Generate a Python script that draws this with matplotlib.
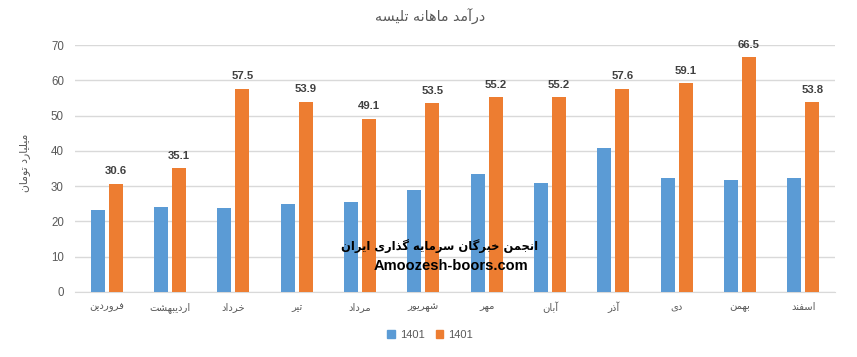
import matplotlib
matplotlib.use("Agg")
import matplotlib.pyplot as plt
from matplotlib.patches import Patch
import numpy as np

# ---------------- data ----------------
months = ["فروردین", "اردیبهشت", "خرداد", "تیر", "مرداد", "شهریور",
          "مهر", "آبان", "آذر", "دی", "بهمن", "اسفند"]
blue_values = [23.2, 24.1, 23.8, 24.9, 25.5, 28.9, 33.4, 30.9, 40.8, 32.3, 31.7, 32.3]
orange_values = [30.6, 35.1, 57.5, 53.9, 49.1, 53.5, 55.2, 55.2, 57.6, 59.1, 66.5, 53.8]
series_names = ["1401", "1401"]
title_text = "درآمد ماهانه تلیسه"
ylabel_text = "میلیارد تومان"
watermark_fa = "انجمن خبرگان سرمایه گذاری ایران"
watermark_en = "Amoozesh-boors.com"

# ---------------- minimal Arabic/Persian shaping ----------------
FORMS = {
    '\u0627': ('\uFE8D', '\uFE8E', None, None),
    '\u0622': ('\uFE81', '\uFE82', None, None),
    '\u0628': ('\uFE8F', '\uFE90', '\uFE91', '\uFE92'),
    '\u062A': ('\uFE95', '\uFE96', '\uFE97', '\uFE98'),
    '\u062C': ('\uFE9D', '\uFE9E', '\uFE9F', '\uFEA0'),
    '\u062D': ('\uFEA1', '\uFEA2', '\uFEA3', '\uFEA4'),
    '\u062E': ('\uFEA5', '\uFEA6', '\uFEA7', '\uFEA8'),
    '\u062F': ('\uFEA9', '\uFEAA', None, None),
    '\u0630': ('\uFEAB', '\uFEAC', None, None),
    '\u0631': ('\uFEAD', '\uFEAE', None, None),
    '\u0632': ('\uFEAF', '\uFEB0', None, None),
    '\u0633': ('\uFEB1', '\uFEB2', '\uFEB3', '\uFEB4'),
    '\u0634': ('\uFEB5', '\uFEB6', '\uFEB7', '\uFEB8'),
    '\u0641': ('\uFED1', '\uFED2', '\uFED3', '\uFED4'),
    '\u0644': ('\uFEDD', '\uFEDE', '\uFEDF', '\uFEE0'),
    '\u0645': ('\uFEE1', '\uFEE2', '\uFEE3', '\uFEE4'),
    '\u0646': ('\uFEE5', '\uFEE6', '\uFEE7', '\uFEE8'),
    '\u0647': ('\uFEE9', '\uFEEA', '\uFEEB', '\uFEEC'),
    '\u0648': ('\uFEED', '\uFEEE', None, None),
    '\u06CC': ('\uFBFC', '\uFBFD', '\uFBFE', '\uFBFF'),
    '\u06AF': ('\uFB92', '\uFB93', '\uFB94', '\uFB95'),
}


def shape(text):
    text = text.replace('\u064A', '\u06CC').replace('\u0649', '\u06CC')
    out = []
    n = len(text)
    for i, ch in enumerate(text):
        f = FORMS.get(ch)
        if f is None:
            out.append(ch)
            continue
        prev = text[i - 1] if i > 0 else None
        nxt = text[i + 1] if i < n - 1 else None
        join_prev = prev is not None and prev in FORMS and FORMS[prev][2] is not None
        join_next = nxt is not None and nxt in FORMS and f[2] is not None
        if join_prev and join_next:
            out.append(f[3])
        elif join_prev:
            out.append(f[1])
        elif join_next:
            out.append(f[2])
        else:
            out.append(f[0])
    return ''.join(out)[::-1]


# ---------------- figure ----------------
BLUE = "#5B9BD5"
ORANGE = "#ED7D31"
GRAY = "#595959"
GRID = "#D9D9D9"
AR_FONT = "DejaVu Sans"
NUM_FONT = "Liberation Sans"

fig = plt.figure(figsize=(8.57, 3.57), dpi=100)
ax = fig.add_axes([75 / 857, 1 - 292 / 357, 760 / 857, 247 / 357])

x = np.arange(len(months))
bw = 0.22
off = 0.142
ax.bar(x - off, blue_values, width=bw, color=BLUE, zorder=3)
ax.bar(x + off, orange_values, width=bw, color=ORANGE, zorder=3)

for xi, v in zip(x, orange_values):
    ax.annotate(f"{v:.1f}", (xi + off, v), xytext=(0, 5.5), textcoords="offset points",
                ha="center", va="bottom", fontsize=8.2, fontweight="bold",
                color="#404040", family=NUM_FONT)

ax.set_xlim(-0.5, len(months) - 0.5)
ax.set_ylim(0, 70)
ax.set_yticks(range(0, 71, 10))
ax.yaxis.grid(True, color=GRID, linewidth=1, zorder=0)
ax.set_axisbelow(True)
for s in ["top", "right", "left"]:
    ax.spines[s].set_visible(False)
ax.spines["bottom"].set_color(GRID)
ax.tick_params(axis="both", length=0)
ax.tick_params(axis="y", labelsize=8.3, labelcolor=GRAY, pad=8)
for lab in ax.get_yticklabels():
    lab.set_family(NUM_FONT)
ax.set_xticks(x)
ax.set_xticklabels([shape(m) for m in months], fontsize=7.2, color=GRAY, family=AR_FONT)
ax.tick_params(axis="x", pad=7)

fig.text(25 / 857, 1 - 163 / 357, shape(ylabel_text), rotation=90, ha="center", va="center",
         fontsize=7.8, color=GRAY, family=AR_FONT)
fig.text(430 / 857, 1 - 17 / 357, shape(title_text), ha="center", va="center",
         fontsize=10.3, color=GRAY, family=AR_FONT)

# watermark
fig.text(440 / 857, 1 - 246 / 357, shape(watermark_fa), ha="center", va="center",
         fontsize=8.3, fontweight="bold", color="black", family=AR_FONT, zorder=10)
fig.text(451 / 857, 1 - 266 / 357, watermark_en, ha="center", va="center",
         fontsize=10.5, fontweight="bold", color="black", family=NUM_FONT, zorder=10)

handles = [Patch(color=BLUE), Patch(color=ORANGE)]
fig.legend(handles, series_names, loc="center", bbox_to_anchor=(430 / 857, 1 - 335 / 357),
           ncol=2, frameon=False, handlelength=0.7, handleheight=0.7,
           handletextpad=0.4, columnspacing=1.0, labelcolor=GRAY,
           prop={"family": NUM_FONT, "size": 8})

fig.savefig("out.png", dpi=100)
